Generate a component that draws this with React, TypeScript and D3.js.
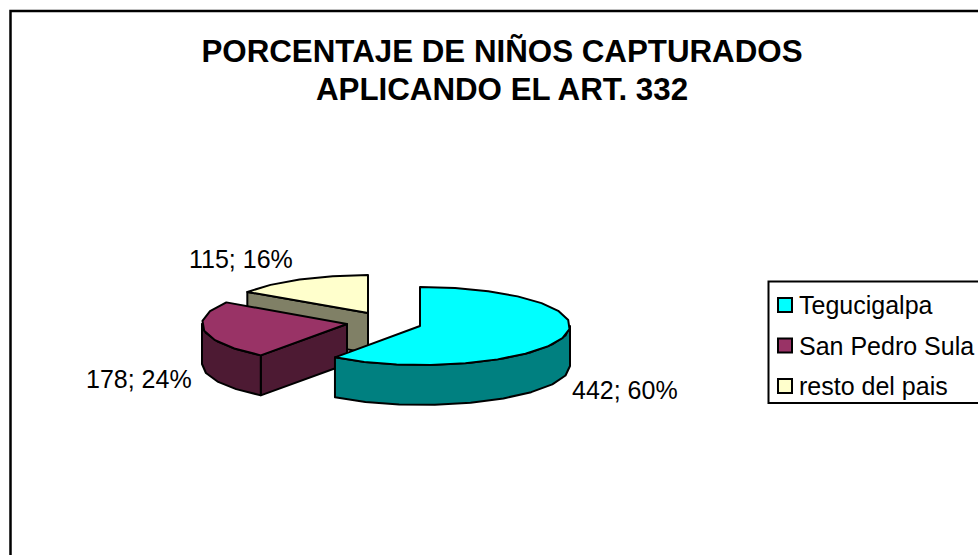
import React, { useEffect, useRef } from "react";
import * as d3 from "d3";

const titleLines = ["PORCENTAJE DE NIÑOS CAPTURADOS", "APLICANDO EL ART. 332"];
const categories = ["Tegucigalpa", "San Pedro Sula", "resto del pais"];
const values = [442, 178, 115];
const percents = [60, 24, 16];
const topColors = ["#00FFFF", "#993366", "#FFFFCC"];
const sideColors = ["#008080", "#4D1A33", "#808066"];

const WIDTH = 978;
const HEIGHT = 555;
const DEPTH = 40;
const FONT = "'Liberation Sans', Arial, sans-serif";

// exploded slices: each one has its own apex on the page
const slices = [
  { cx: 420, cy: 326, rxRight: 150, rxLeft: 143, ry: 39, lx: 572, ly: 399 },
  { cx: 347, cy: 324, rxRight: 145, rxLeft: 145, ry: 39, lx: 86, ly: 388 },
  { cx: 368, cy: 313, rxRight: 145, rxLeft: 145, ry: 38, lx: 189, ly: 268 },
];

export default function App() {
  const ref = useRef<SVGSVGElement>(null);

  useEffect(() => {
    const svg = d3.select(ref.current);
    svg.selectAll("*").remove();

    svg
      .append("rect")
      .attr("x", 10.5)
      .attr("y", 11)
      .attr("width", WIDTH + 20)
      .attr("height", HEIGHT + 20)
      .attr("fill", "#fff")
      .attr("stroke", "#000")
      .attr("stroke-width", 2.5);

    // Title
    svg
      .selectAll("text.title")
      .data(titleLines)
      .join("text")
      .attr("class", "title")
      .attr("x", 502)
      .attr("y", (d, i) => 62 + i * 38)
      .attr("text-anchor", "middle")
      .attr("font-family", FONT)
      .attr("font-weight", "bold")
      .attr("font-size", 31.3)
      .text((d) => d);

    const arcs = d3
      .pie<number>()
      .sort(null)
      .startAngle(0)
      .endAngle(2 * Math.PI)(values);

    const line = d3.line();
    const outline = { stroke: "#000", "stroke-width": 2, "stroke-linejoin": "round" };

    const drawPoly = (pts: [number, number][], fill: string) => {
      const p = svg.append("path").attr("d", line(pts) + "Z").attr("fill", fill);
      Object.entries(outline).forEach(([k, v]) => p.attr(k, v));
    };

    // coarse sampling gives the rim the same faceted look as the original
    const sample = (a0: number, a1: number) => {
      const n = Math.max(1, Math.round((a1 - a0) / (Math.PI / 13)));
      return d3.range(n + 1).map((i) => a0 + ((a1 - a0) * i) / n);
    };

    // back to front
    [2, 1, 0].forEach((i) => {
      const { startAngle, endAngle } = arcs[i];
      const s = slices[i];
      const at = (a: number): [number, number] => {
        const sin = Math.sin(a);
        return [s.cx + (sin > 0 ? s.rxRight : s.rxLeft) * sin, s.cy - s.ry * Math.cos(a)];
      };
      const down = (p: [number, number]): [number, number] => [p[0], p[1] + DEPTH];
      const apex: [number, number] = [s.cx, s.cy];

      const radialWall = (a: number) => {
        const e = at(a);
        drawPoly([apex, e, down(e), down(apex)], sideColors[i]);
      };
      if (Math.sin(startAngle) < -1e-6) radialWall(startAngle);
      if (Math.sin(endAngle) > 1e-6) radialWall(endAngle);

      const rimStart = Math.max(startAngle, Math.PI / 2);
      const rimEnd = Math.min(endAngle, (3 * Math.PI) / 2);
      if (rimEnd > rimStart) {
        const rim = sample(rimStart, rimEnd).map(at);
        drawPoly([...rim, ...rim.map(down).reverse()], sideColors[i]);
      }

      drawPoly([apex, ...sample(startAngle, endAngle).map(at)], topColors[i]);
    });

    // Data labels
    svg
      .selectAll("text.label")
      .data(values)
      .join("text")
      .attr("class", "label")
      .attr("x", (d, i) => slices[i].lx)
      .attr("y", (d, i) => slices[i].ly)
      .attr("font-family", FONT)
      .attr("font-size", 25)
      .text((d, i) => `${d}; ${percents[i]}%`);

    // Legend
    svg
      .append("rect")
      .attr("x", 768.5)
      .attr("y", 281.5)
      .attr("width", WIDTH)
      .attr("height", 121.5)
      .attr("fill", "#fff")
      .attr("stroke", "#000")
      .attr("stroke-width", 2);

    const legend = svg
      .selectAll("g.legend")
      .data(categories)
      .join("g")
      .attr("class", "legend")
      .attr("transform", (d, i) => `translate(778,${305 + i * 40.5})`);

    legend
      .append("rect")
      .attr("y", -7)
      .attr("width", 14)
      .attr("height", 14)
      .attr("fill", (d, i) => topColors[i])
      .attr("stroke", "#000")
      .attr("stroke-width", 2);

    legend
      .append("text")
      .attr("x", 21)
      .attr("y", 9)
      .attr("font-family", FONT)
      .attr("font-size", 25)
      .text((d) => d);
  }, []);

  return (
    <svg
      ref={ref}
      width={WIDTH}
      height={HEIGHT}
      style={{ position: "absolute", left: 0, top: 0 }}
    />
  );
}
